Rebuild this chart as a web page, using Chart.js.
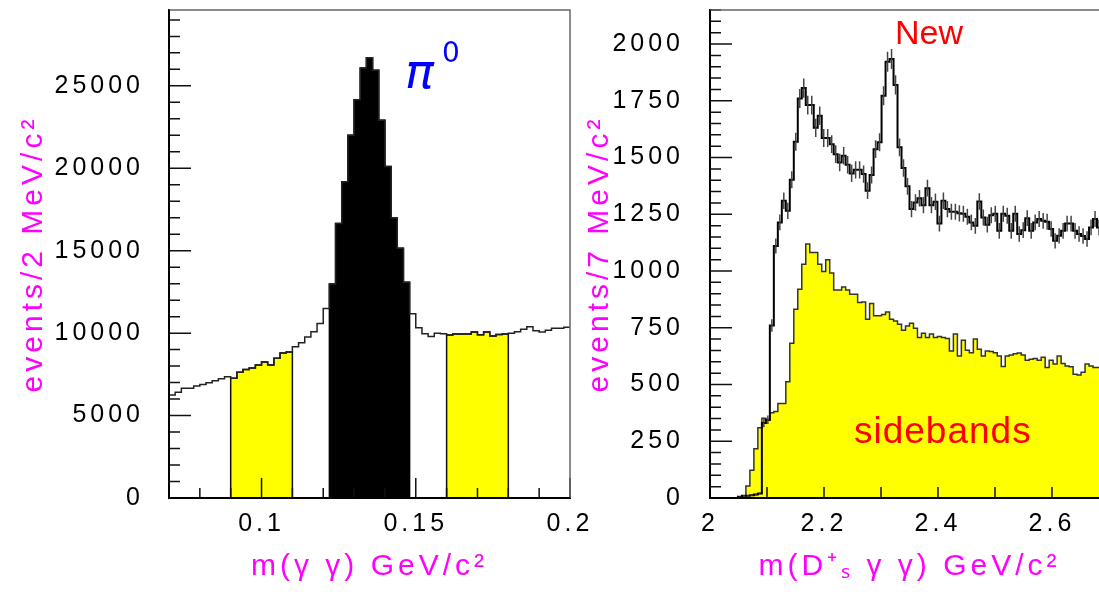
<!DOCTYPE html>
<html>
<head>
<meta charset="utf-8">
<script src="https://cdn.jsdelivr.net/npm/chart.js@4/dist/chart.umd.min.js"></script>
<style>
    html, body { margin: 0; padding: 0; background: #fff; overflow: hidden; }
    body { width: 1099px; height: 603px; position: relative; }
    canvas { position: absolute; top: 0; }
    #pi0Mass { left: 0; }
    #dsMass { left: 572px; }
</style>
</head>
<body>
<canvas id="pi0Mass" width="600" height="603"></canvas>
<canvas id="dsMass" width="560" height="603"></canvas>
<script>
// left panel: m(gamma gamma), 2 MeV bins starting at 0.07 GeV
const pi0BinStart = 0.07;
const pi0BinWidth = 0.002;
const pi0Counts = [
    6250, 6420, 6650, 6650, 6790, 6890, 6990, 7110, 7230, 7360,
    7270, 7630, 7790, 7880, 8060, 8250, 8060, 8470, 8790, 8850,
    9180, 9410, 9760, 10080, 10580, 11490,
    12980, 16650, 19180, 22010, 24160, 26080, 26710, 25940, 22920, 20110, 16990, 15150, 13080,
    11180, 10330, 9960, 9800, 10000, 9960, 9880, 9940, 9940, 9940,
    10070, 9900, 10070, 9820, 9920, 9940, 10000, 10080, 10230, 10390,
    10150, 10070, 10170, 10290, 10290, 10350
];
// bin index ranges (first, last) of the shaded parts
const pi0PeakBins = [26, 38];
const pi0SidebandBins = [[10, 19], [45, 54]];
const pi0XLabels = [0.1, 0.15, 0.2];
const pi0YLabels = [0, 5000, 10000, 15000, 20000, 25000];

// right panel: m(Ds gamma gamma), 7 MeV bins starting at 2.0 GeV
const dsBinStart = 2.0;
const dsBinWidth = 0.007;
const dsCounts = [
    0, 0, 0, 0, 0, 0, 0, 5, 10, 10,
    12, 15, 20, 330, 345, 760, 1110, 1214, 1310, 1265,
    1402, 1570, 1760, 1806, 1731, 1731, 1631, 1684, 1586, 1586,
    1559, 1515, 1478, 1508, 1468, 1430, 1446, 1446, 1427, 1354,
    1423, 1537, 1567, 1772, 1922, 1934, 1820, 1545, 1454, 1373,
    1273, 1302, 1321, 1290, 1365, 1290, 1305, 1209, 1310, 1273,
    1261, 1261, 1254, 1252, 1239, 1214, 1199, 1306, 1236, 1204,
    1246, 1252, 1177, 1252, 1243, 1177, 1252, 1163, 1180, 1233,
    1177, 1214, 1229, 1221, 1217, 1185, 1133, 1155, 1177, 1209,
    1209, 1177, 1163, 1154, 1141, 1192, 1229, 1192, 1200, 1190
];
const dsSidebandCounts = [
    0, 0, 0, 0, 0, 0, 0, 0, 0, 53,
    122, 217, 310, 351, 343, 376, 381, 416, 416, 512,
    682, 832, 920, 1030, 1119, 1082, 1082, 1030, 998, 1050,
    991, 916, 916, 930, 916, 898, 898, 861, 863, 788,
    857, 803, 803, 808, 820, 788, 780, 766, 739, 758,
    770, 748, 707, 726, 707, 722, 707, 711, 707, 703,
    648, 722, 626, 695, 651, 640, 700, 655, 626, 648,
    645, 640, 626, 579, 626, 630, 636, 639, 630, 607,
    611, 615, 607, 620, 575, 607, 590, 626, 593, 582,
    578, 545, 542, 554, 590, 582, 575, 575, 578, 570
];
const dsXLabels = [2, 2.2, 2.4, 2.6];
const dsYLabels = [0, 250, 500, 750, 1000, 1250, 1500, 1750, 2000];

// step points for a histogram (bin low edges + closing edge)
function histPoints(start, width, counts, from, to, closed) {
    const pts = [];
    if (closed) pts.push({x: start + from * width, y: 0});
    for (let k = from; k <= to; k++) pts.push({x: start + k * width, y: counts[k]});
    pts.push({x: start + (to + 1) * width, y: counts[to]});
    if (closed) pts.push({x: start + (to + 1) * width, y: 0});
    return pts;
}

function drawInnerTicks(ctx, scale, a, minor, major, minorLen, majorLen, isX) {
    const n0 = Math.ceil(scale.min / minor - 1e-6);
    const n1 = Math.floor(scale.max / minor + 1e-6);
    ctx.beginPath();
    for (let n = n0; n <= n1; n++) {
        const v = n * minor;
        const isMajor = Math.abs(v / major - Math.round(v / major)) < 1e-6;
        const len = isMajor ? majorLen : minorLen;
        const p = scale.getPixelForValue(v);
        if (isX) { ctx.moveTo(p, a.bottom); ctx.lineTo(p, a.bottom - len); }
        else { ctx.moveTo(a.left, p); ctx.lineTo(a.left + len, p); }
    }
    ctx.stroke();
}

// ticks inside the frame, error bars, frame and labels
const histFrame = {
    id: 'histFrame',
    beforeDraw(chart) {
        chart.ctx.letterSpacing = '4px';
    },
    afterDatasetsDraw(chart, args, opts) {
        const {ctx, chartArea: a} = chart;
        const x = chart.scales.x, y = chart.scales.y;
        ctx.save();
        ctx.letterSpacing = '0px';

        chart.data.datasets.forEach(ds => {
            if (!ds.errorBars) return;
            ctx.strokeStyle = '#444';
            ctx.lineWidth = 1.5;
            ctx.beginPath();
            for (let k = 0; k < ds.data.length - 1; k++) {
                const p = ds.data[k], q = ds.data[k + 1];
                if (p.y <= 0) continue;
                const err = Math.sqrt(p.y); // poisson
                const px = x.getPixelForValue((p.x + q.x) / 2);
                ctx.moveTo(px, y.getPixelForValue(p.y - err));
                ctx.lineTo(px, y.getPixelForValue(p.y + err));
            }
            ctx.stroke();
        });

        ctx.strokeStyle = '#111';
        ctx.lineWidth = 1.5;
        const t = opts.ticks;
        drawInnerTicks(ctx, x, a, t.x[0], t.x[1], t.x[2], t.x[3], true);
        drawInnerTicks(ctx, y, a, t.y[0], t.y[1], t.y[2], t.y[3], false);

        ctx.strokeStyle = '#666';
        ctx.lineWidth = 1.5;
        ctx.beginPath();
        ctx.moveTo(a.left, a.top);
        ctx.lineTo(a.right, a.top);
        ctx.lineTo(a.right, a.bottom);
        ctx.stroke();
        ctx.strokeStyle = '#000';
        ctx.lineWidth = 2;
        ctx.beginPath();
        ctx.moveTo(a.left, a.top);
        ctx.lineTo(a.left, a.bottom);
        ctx.lineTo(a.right, a.bottom);
        ctx.stroke();

        (opts.texts || []).forEach(tx => {
            ctx.font = tx.font;
            ctx.fillStyle = tx.color;
            ctx.letterSpacing = tx.spacing || '0px';
            ctx.textAlign = 'left';
            ctx.textBaseline = 'alphabetic';
            ctx.fillText(tx.text, x.getPixelForValue(tx.x), y.getPixelForValue(tx.y));
        });
        ctx.restore();
    }
};

const tickFont = {family: 'Liberation Sans', size: 25};
const titleFont = {family: 'Liberation Sans', size: 30};

function histLine(data, color, width, fillColor) {
    return {
        data: data,
        stepped: true,
        borderColor: color,
        borderWidth: width,
        backgroundColor: fillColor || 'transparent',
        fill: fillColor ? 'origin' : false,
        pointRadius: 0,
        tension: 0
    };
}

function axes(o) {
    return {
        x: {
            type: 'linear', min: o.xMin, max: o.xMax,
            afterFit: s => { s.height = 105; s.paddingLeft = 0; s.paddingRight = 0; },
            afterBuildTicks: s => { s.ticks = o.xLabels.map(v => ({value: v})); },
            grid: {display: false, drawTicks: false},
            border: {display: true, color: '#000', width: 2},
            ticks: {font: tickFont, color: '#000', padding: 11, maxRotation: 0, autoSkip: false,
                callback: v => String(v)},
            title: {display: true, text: o.xTitle, color: '#ff00ff', font: titleFont, padding: {bottom: 18}}
        },
        y: {
            type: 'linear', min: 0, max: o.yMax,
            afterFit: s => { s.width = o.yWidth; s.paddingTop = 0; s.paddingBottom = 0; },
            afterBuildTicks: s => { s.ticks = o.yLabels.map(v => ({value: v})); },
            grid: {display: false, drawTicks: false},
            border: {display: true, color: '#000', width: 2},
            ticks: {font: tickFont, color: '#000', padding: o.yPad, autoSkip: false,
                callback: v => String(v)},
            title: {display: true, text: o.yTitle, color: '#ff00ff', font: titleFont, padding: {top: o.yTitlePad}}
        }
    };
}

// left chart
const pi0Sets = [histLine(histPoints(pi0BinStart, pi0BinWidth, pi0Counts, 0, pi0Counts.length - 1, false), '#222', 1.5)];
pi0SidebandBins.forEach(b => {
    pi0Sets.push(histLine(histPoints(pi0BinStart, pi0BinWidth, pi0Counts, b[0], b[1], true), '#111', 1.5, '#ffff00'));
});
pi0Sets.push(histLine(histPoints(pi0BinStart, pi0BinWidth, pi0Counts, pi0PeakBins[0], pi0PeakBins[1], true), '#000', 1.5, '#000'));

new Chart(document.getElementById('pi0Mass'), {
    type: 'line',
    data: {datasets: pi0Sets},
    options: {
        responsive: false,
        animation: false,
        layout: {padding: {top: 10, right: 30, left: 0, bottom: 0}},
        plugins: {
            legend: {display: false},
            tooltip: {enabled: false},
            histFrame: {
                ticks: {x: [0.01, 0.05, 10, 20], y: [1000, 5000, 11, 22]},
                texts: [
                    {text: 'π', x: 0.1465, y: 24870, font: 'oblique 48px "DejaVu Sans"', color: '#0000ff'},
                    {text: '0', x: 0.1585, y: 26446, font: '28px "DejaVu Sans"', color: '#0000ff'}
                ]
            }
        },
        scales: axes({
            xMin: 0.07, xMax: 0.2, xLabels: pi0XLabels, xTitle: 'm(γ γ) GeV/c²',
            yMax: 29600, yLabels: pi0YLabels, yWidth: 169, yPad: 25,
            yTitle: 'events/2 MeV/c²', yTitlePad: 16
        })
    },
    plugins: [histFrame]
});

// right chart
const dsSignal = histLine(histPoints(dsBinStart, dsBinWidth, dsCounts, 0, dsCounts.length - 1, false), '#000', 2);
dsSignal.errorBars = true;
const dsSide = histLine(histPoints(dsBinStart, dsBinWidth, dsSidebandCounts, 0, dsSidebandCounts.length - 1, true), '#333', 1.5, '#ffff00');

new Chart(document.getElementById('dsMass'), {
    type: 'line',
    data: {datasets: [dsSignal, dsSide]},
    options: {
        responsive: false,
        animation: false,
        layout: {padding: {top: 10, right: 23, left: 0, bottom: 0}},
        plugins: {
            legend: {display: false},
            tooltip: {enabled: false},
            histFrame: {
                ticks: {x: [0.1, 0.1, 11, 11], y: [50, 250, 11, 22]},
                texts: [
                    {text: 'New', x: 2.3246, y: 2000, font: '34px "Liberation Sans"', color: '#ff0000'},
                    {text: 'sidebands', x: 2.2526, y: 242, font: '37px "Liberation Sans"', color: '#ff0000', spacing: '1px'}
                ]
            }
        },
        scales: axes({
            xMin: 2.0, xMax: 2.7, xLabels: dsXLabels, xTitle: 'm(D⁺ₛ γ γ) GeV/c²',
            yMax: 2150, yLabels: dsYLabels, yWidth: 138, yPad: 26,
            yTitle: 'events/7 MeV/c²', yTitlePad: 10
        })
    },
    plugins: [histFrame]
});
</script>
</body>
</html>
